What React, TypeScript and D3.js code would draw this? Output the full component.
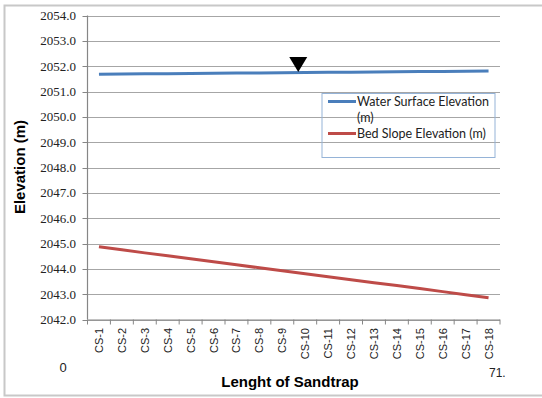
import React from "react";
import * as d3 from "d3";

const sections = [
  "CS-1", "CS-2", "CS-3", "CS-4", "CS-5", "CS-6", "CS-7", "CS-8", "CS-9",
  "CS-10", "CS-11", "CS-12", "CS-13", "CS-14", "CS-15", "CS-16", "CS-17", "CS-18",
];
const waterSurface = [
  2051.68, 2051.69, 2051.70, 2051.70, 2051.71, 2051.72, 2051.73, 2051.73, 2051.74,
  2051.75, 2051.76, 2051.76, 2051.77, 2051.78, 2051.79, 2051.79, 2051.80, 2051.81,
];
const bedSlope = [
  2044.87, 2044.75, 2044.63, 2044.52, 2044.40, 2044.28, 2044.16, 2044.04, 2043.92,
  2043.81, 2043.69, 2043.57, 2043.45, 2043.34, 2043.22, 2043.10, 2042.98, 2042.86,
];
const yTicks = [2042, 2043, 2044, 2045, 2046, 2047, 2048, 2049, 2050, 2051, 2052, 2053, 2054];
const seriesNames = ["Water Surface Elevation", "(m)", "Bed Slope Elevation (m)"];
const markerSection = "CS-10";

const W = 542;
const H = 398;
const left = 87.5;
const right = 500;
const top = 15.5;
const bottom = 319.5;

const serif = "'Liberation Serif', 'Times New Roman', serif";
const sans = "'Liberation Sans', Arial, sans-serif";
const legendFont = "Lato, 'Open Sans', sans-serif";

export default function App() {
  const x = d3.scaleBand<string>().domain(sections).range([left, right]);
  const y = d3.scaleLinear().domain([2042, 2054]).range([bottom, top]);
  const cx = (s: string) => (x(s) as number) + x.bandwidth() / 2;

  const line = d3
    .line<number>()
    .x((_, i) => cx(sections[i]))
    .y((d) => y(d));

  const markerX = (x(markerSection) as number) + 4.5;
  const markerIdx = sections.indexOf(markerSection);
  const tipY = y(waterSurface[markerIdx]) - 0.5;

  const tickXs = [left, ...sections.map((s) => (x(s) as number) + x.bandwidth())];

  return (
    <svg
      width={W}
      height={H}
      style={{ position: "absolute", left: 0, top: 0, background: "#fff" }}
    >
      <rect x={4.5} y={5.5} width={560} height={390} fill="#fff" stroke="#c8c8c8" strokeWidth={2} />

      {/* horizontal gridlines */}
      {yTicks.map((t) => (
        <line
          key={"g" + t}
          x1={left}
          x2={right}
          y1={Math.round(y(t)) + 0.5}
          y2={Math.round(y(t)) + 0.5}
          stroke="#a6a6a6"
          strokeWidth={1.2}
        />
      ))}

      {/* y axis */}
      <line x1={left} x2={left} y1={top} y2={bottom} stroke="#868686" strokeWidth={1.2} />
      {yTicks.map((t) => (
        <g key={"y" + t}>
          <line x1={left - 5} x2={left} y1={Math.round(y(t)) + 0.5} y2={Math.round(y(t)) + 0.5} stroke="#868686" />
          <text
            x={76}
            y={y(t)}
            dy="0.35em"
            textAnchor="end"
            fontFamily={serif}
            fontSize={13}
            fill="#222"
          >
            {t.toFixed(1)}
          </text>
        </g>
      ))}

      {/* x axis */}
      <line x1={left} x2={right} y1={bottom + 0.5} y2={bottom + 0.5} stroke="#868686" strokeWidth={1.2} />
      {tickXs.map((tx, i) => (
        <line key={"xt" + i} x1={tx} x2={tx} y1={bottom} y2={bottom + 5} stroke="#868686" />
      ))}
      {sections.map((s) => (
        <text
          key={"xl" + s}
          transform={`translate(${cx(s) + 4},${328}) rotate(-90)`}
          textAnchor="end"
          fontFamily={sans}
          fontSize={11}
          fill="#222"
        >
          {s}
        </text>
      ))}

      {/* series */}
      <path d={line(bedSlope) || ""} fill="none" stroke="#be4b48" strokeWidth={3} />
      <path d={line(waterSurface) || ""} fill="none" stroke="#4a7ebb" strokeWidth={3} />

      {/* water surface marker */}
      <path
        d={`M${markerX - 9},${tipY - 15}L${markerX + 9},${tipY - 15}L${markerX},${tipY}Z`}
        fill="#000"
      />

      {/* legend */}
      <rect x={322} y={93.5} width={173} height={64} fill="none" stroke="#95b3d7" strokeWidth={1} />
      <line x1={328} x2={356} y1={101.5} y2={101.5} stroke="#4a7ebb" strokeWidth={3} />
      <text x={357} y={106} fontFamily={legendFont} fontSize={12.5} fill="#222">
        {seriesNames[0]}
      </text>
      <text x={357} y={121.5} fontFamily={legendFont} fontSize={12.5} fill="#222">
        {seriesNames[1]}
      </text>
      <line x1={328} x2={356} y1={133.5} y2={133.5} stroke="#be4b48" strokeWidth={3} />
      <text x={357} y={138} fontFamily={legendFont} fontSize={12.5} fill="#222">
        {seriesNames[2]}
      </text>

      {/* axis titles */}
      <text
        transform={`translate(25,167) rotate(-90)`}
        textAnchor="middle"
        fontFamily={sans}
        fontWeight="bold"
        fontSize={15}
        fill="#000"
      >
        Elevation (m)
      </text>
      <text
        x={290}
        y={387}
        textAnchor="middle"
        fontFamily={sans}
        fontWeight="bold"
        fontSize={15}
        fill="#000"
      >
        Lenght of Sandtrap
      </text>

      <text x={63} y={372} textAnchor="middle" fontFamily={sans} fontSize={13} fill="#222">
        0
      </text>
      <text x={489} y={377} fontFamily={sans} fontSize={12} fill="#222">
        71.
      </text>
    </svg>
  );
}
